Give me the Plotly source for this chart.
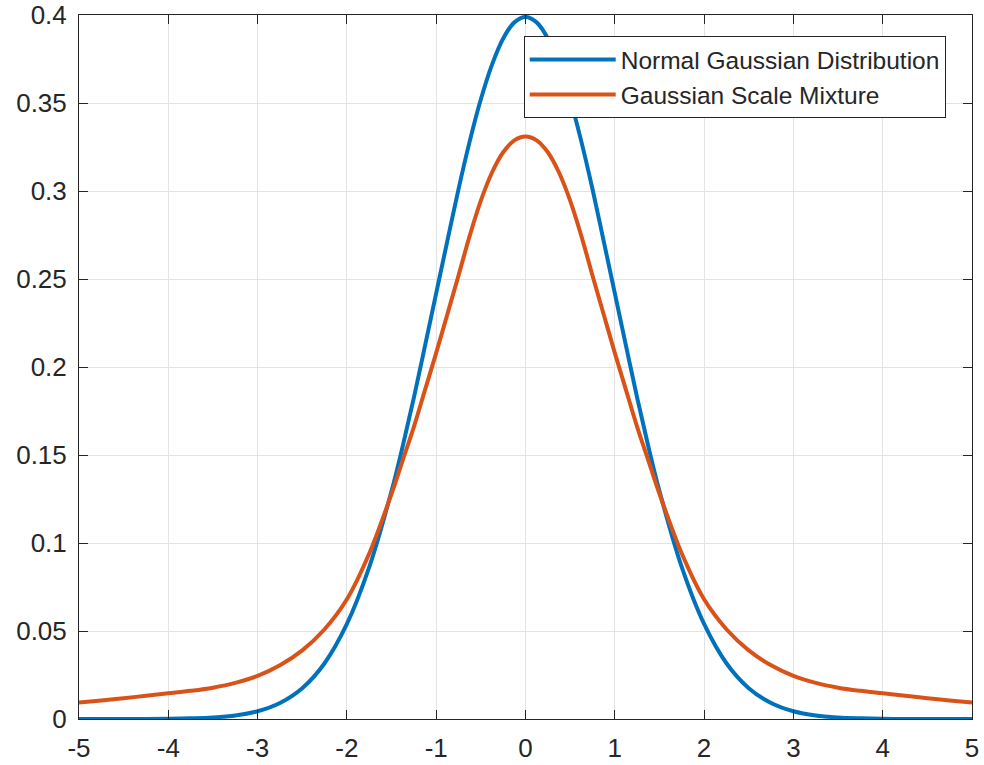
import plotly.graph_objects as go

x_vals = [-5.0, -4.75, -4.5, -4.25, -4.0, -3.75, -3.5, -3.25, -3.0, -2.75, -2.5, -2.25, -2.0,
          -1.75, -1.5, -1.375, -1.25, -1.125, -1.0, -0.875, -0.75, -0.625, -0.5, -0.375,
          -0.25, -0.125, 0.0, 0.125, 0.25, 0.375, 0.5, 0.625, 0.75, 0.875, 1.0, 1.125,
          1.25, 1.375, 1.5, 1.75, 2.0, 2.25, 2.5, 2.75, 3.0, 3.25, 3.5, 3.75, 4.0, 4.25,
          4.5, 4.75, 5.0]

normal_vals = [0.0000, 0.0000, 0.0000, 0.0000, 0.0001, 0.0004, 0.0009, 0.0020, 0.0044, 0.0091,
               0.0175, 0.0317, 0.0540, 0.0863, 0.1295, 0.1550, 0.1826, 0.2121, 0.2420, 0.2717,
               0.3011, 0.3282, 0.3521, 0.3718, 0.3867, 0.3958, 0.3989, 0.3958, 0.3867, 0.3718,
               0.3521, 0.3282, 0.3011, 0.2717, 0.2420, 0.2121, 0.1826, 0.1550, 0.1295, 0.0863,
               0.0540, 0.0317, 0.0175, 0.0091, 0.0044, 0.0020, 0.0009, 0.0004, 0.0001, 0.0000,
               0.0000, 0.0000, 0.0000]

gsm_vals = [0.0093, 0.0105, 0.0118, 0.0132, 0.0146, 0.0160, 0.0178, 0.0205, 0.0245, 0.0305,
            0.0390, 0.0510, 0.0680, 0.0940, 0.1280, 0.1470, 0.1660, 0.1870, 0.2080, 0.2300,
            0.2520, 0.2745, 0.2945, 0.3105, 0.3220, 0.3288, 0.3310, 0.3288, 0.3220, 0.3105,
            0.2945, 0.2745, 0.2520, 0.2300, 0.2080, 0.1870, 0.1660, 0.1470, 0.1280, 0.0940,
            0.0680, 0.0510, 0.0390, 0.0305, 0.0245, 0.0205, 0.0178, 0.0160, 0.0146, 0.0132,
            0.0118, 0.0105, 0.0093]

series_names = ["Normal Gaussian Distribution", "Gaussian Scale Mixture"]
colors = ["#0072BD", "#D95319"]

x_ticks = [-5, -4, -3, -2, -1, 0, 1, 2, 3, 4, 5]
y_ticks = [0, 0.05, 0.1, 0.15, 0.2, 0.25, 0.3, 0.35, 0.4]
y_tick_text = ["0", "0.05", "0.1", "0.15", "0.2", "0.25", "0.3", "0.35", "0.4"]

FONT = "Liberation Sans, Arial, Helvetica, sans-serif"
AX = "#262626"

fig = go.Figure()
for name, ys, c in zip(series_names, [normal_vals, gsm_vals], colors):
    fig.add_trace(go.Scatter(x=x_vals, y=ys, mode="lines", name=name,
                             line=dict(color=c, width=4, shape="spline", smoothing=1.0)))

axis_common = dict(showline=True, linecolor=AX, linewidth=1, mirror="allticks",
                   ticks="inside", ticklen=9, tickcolor=AX, tickwidth=1,
                   showgrid=True, gridcolor="#e3e3e3", gridwidth=1, zeroline=False,
                   automargin=False,
                   tickfont=dict(family=FONT, size=26, color=AX))

fig.update_xaxes(range=[-5, 5], tickvals=x_ticks, ticktext=[str(t) for t in x_ticks],
                 ticklabelstandoff=6, **axis_common)
fig.update_yaxes(range=[0, 0.4], tickvals=y_ticks, ticktext=y_tick_text,
                 ticklabelstandoff=6, **axis_common)

fig.update_layout(
    width=984, height=765,
    margin=dict(l=79, r=12, t=15, b=46),
    plot_bgcolor="white", paper_bgcolor="white",
    font=dict(family=FONT, color=AX),
    legend=dict(x=0.498, y=0.970, xanchor="left", yanchor="top",
                bgcolor="white", bordercolor=AX, borderwidth=1,
                font=dict(family=FONT, size=24.5, color=AX),
                itemwidth=86, tracegroupgap=0),
    showlegend=True,
)

fig.write_html("out.html")
